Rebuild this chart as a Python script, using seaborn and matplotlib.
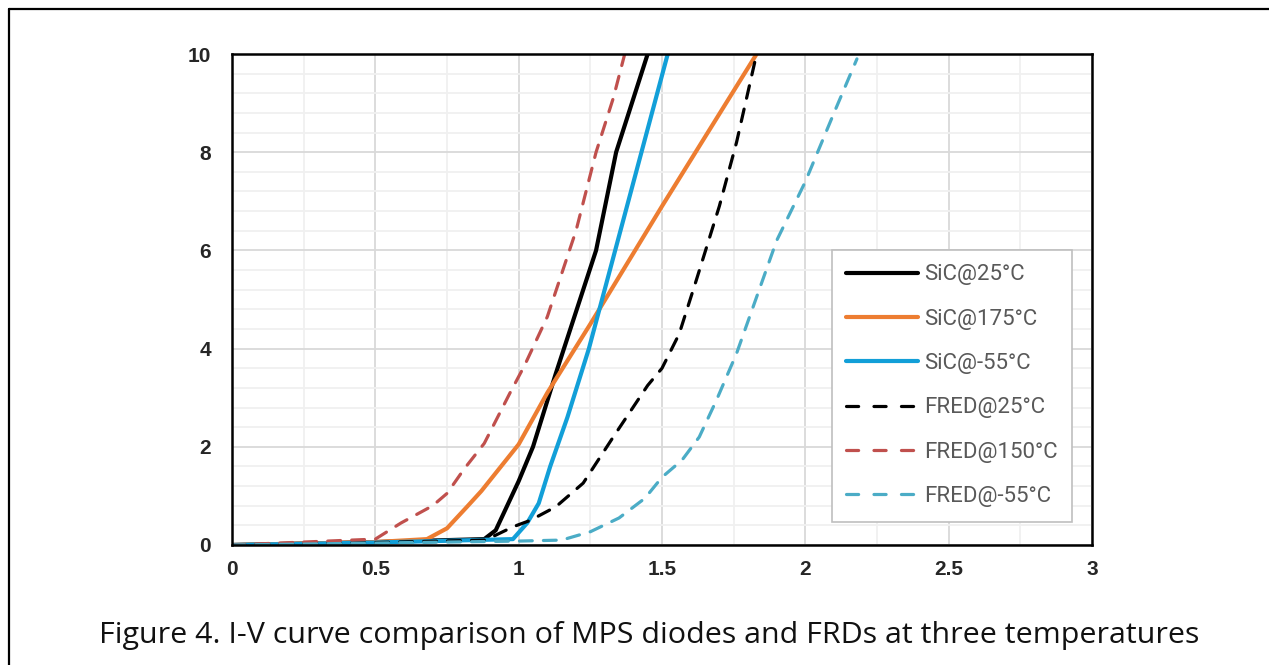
import numpy as np
import pandas as pd
import matplotlib
matplotlib.use('Agg')
import matplotlib.pyplot as plt
from matplotlib.lines import Line2D
from matplotlib.ticker import MultipleLocator
import seaborn as sns

# Values (V in volts, I in amperes)
sic25_v = [0, 0.5, 0.88, 0.92, 0.96, 1.0, 1.05, 1.13, 1.27, 1.34, 1.45]
sic25_i = [0, 0.06, 0.12, 0.3, 0.8, 1.3, 2.0, 3.5, 6.0, 8.0, 10.0]

sic175_v = [0, 0.5, 0.68, 0.75, 0.82, 0.87, 1.0, 1.1, 1.25, 1.5, 1.83]
sic175_i = [0, 0.06, 0.12, 0.34, 0.78, 1.1, 2.05, 3.1, 4.5, 6.9, 10.0]

sicm55_v = [0, 0.5, 0.98, 1.03, 1.07, 1.11, 1.17, 1.245, 1.52]
sicm55_i = [0, 0.05, 0.12, 0.45, 0.85, 1.6, 2.6, 4.0, 10.0]

fred25_v = [0, 0.5, 0.88, 0.92, 0.98, 1.04, 1.13, 1.225, 1.33, 1.45, 1.5,
            1.56, 1.62, 1.7, 1.76, 1.83]
fred25_i = [0, 0.05, 0.1, 0.2, 0.37, 0.5, 0.78, 1.26, 2.2, 3.25, 3.6,
            4.3, 5.4, 6.9, 8.2, 10.0]

fred150_v = [0, 0.5, 0.59, 0.7, 0.75, 0.81, 0.88, 0.97, 1.02, 1.1, 1.2,
             1.27, 1.33, 1.37]
fred150_i = [0, 0.12, 0.45, 0.8, 1.05, 1.55, 2.07, 3.1, 3.65, 4.65, 6.4,
             8.0, 9.1, 10.0]

fredm55_v = [0, 0.5, 1.0, 1.15, 1.25, 1.35, 1.44, 1.5, 1.57, 1.63, 1.69,
             1.76, 1.83, 1.9, 2.0, 2.1, 2.18]
fredm55_i = [0, 0.04, 0.08, 0.1, 0.27, 0.55, 0.95, 1.38, 1.73, 2.2, 2.95,
             3.9, 5.05, 6.2, 7.4, 8.8, 9.9]

labels = ['SiC@25°C', 'SiC@175°C', 'SiC@-55°C',
          'FRED@25°C', 'FRED@150°C', 'FRED@-55°C']
colors = ['#000000', '#ED7D31', '#129FD8', '#000000', '#C0504D', '#4BACC6']

x_ticks = [0, 0.5, 1, 1.5, 2, 2.5, 3]
y_ticks = [0, 2, 4, 6, 8, 10]

series = [
    (sic25_v, sic25_i), (sic175_v, sic175_i), (sicm55_v, sicm55_i),
    (fred25_v, fred25_i), (fred150_v, fred150_i), (fredm55_v, fredm55_i),
]

sns.set_style('white')
plt.rcParams['font.family'] = ['Liberation Sans', 'DejaVu Sans']

fig = plt.figure(figsize=(12.69, 6.65), dpi=100)
ax = fig.add_axes([232 / 1269, 120 / 665, 860 / 1269, 491 / 665])

for k, ((v, i), lab, col) in enumerate(zip(series, labels, colors)):
    df = pd.DataFrame({'V': v, 'I': i})
    dashed = k >= 3
    sns.lineplot(data=df, x='V', y='I', sort=False, ax=ax, color=col,
                 label=lab, linewidth=2.3 if dashed else 3.0,
                 linestyle=(0, (4, 3.5)) if dashed else '-',
                 dash_capstyle='round', solid_capstyle='round')

ax.set_xlim(0, 3)
ax.set_ylim(0, 10)
ax.set_xticks(x_ticks)
ax.set_xticklabels([f'{t:g}' for t in x_ticks])
ax.set_yticks(y_ticks)
ax.set_yticklabels([f'{t:g}' for t in y_ticks])
ax.xaxis.set_minor_locator(MultipleLocator(0.25))
ax.yaxis.set_minor_locator(MultipleLocator(0.4))
ax.grid(which='major', color='#D9D9D9', linewidth=1.3)
ax.grid(which='minor', color='#F0F0F0', linewidth=1.3)
ax.set_axisbelow(True)
ax.tick_params(which='both', length=0)
ax.tick_params(axis='y', pad=15, labelsize=15)
ax.tick_params(axis='x', pad=11, labelsize=15)
for lab in ax.get_xticklabels() + ax.get_yticklabels():
    lab.set_fontweight('bold')
ax.set_xlabel('')
ax.set_ylabel('')
for sp in ax.spines.values():
    sp.set_visible(True)
    sp.set_color('#000000')
    sp.set_linewidth(1.8)

leg = ax.legend(loc='upper left', bbox_to_anchor=(0.6977, 0.6008),
                prop={'family': 'Roboto', 'size': 16},
                handlelength=3.2, handletextpad=0.3, labelspacing=1.05,
                borderpad=0.65, borderaxespad=0, fancybox=False,
                framealpha=1, edgecolor='#BFBFBF')
leg.get_frame().set_linewidth(1.2)
for t in leg.get_texts():
    t.set_color('#595959')
# three dashes per legend sample, as in the reference
for h in leg.get_lines()[3:]:
    h.set_linestyle((0, (3.8, 4.8)))

fig.text(649 / 1269, 1 - 636 / 665,
         'Figure 4. I-V curve comparison of MPS diodes and FRDs at three temperatures',
         ha='center', va='center', fontsize=21.9, family='Open Sans', color='#111111')

# page border (top and left edges)
fig.add_artist(Line2D([9 / 1269, 1], [1 - 9 / 665, 1 - 9 / 665],
                      color='#000000', linewidth=1.6, transform=fig.transFigure))
fig.add_artist(Line2D([9 / 1269, 9 / 1269], [0, 1 - 9 / 665],
                      color='#000000', linewidth=1.6, transform=fig.transFigure))

fig.savefig('out.png', dpi=100)
